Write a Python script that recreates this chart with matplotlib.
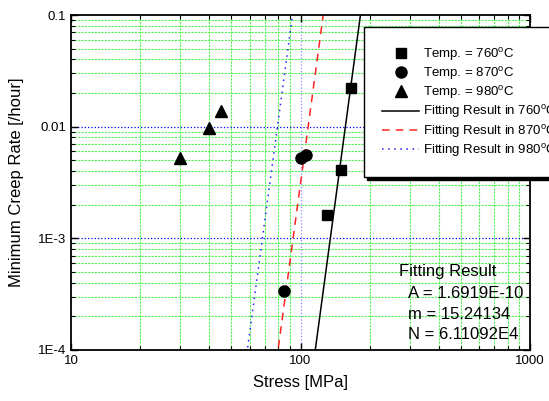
import matplotlib.pyplot as plt
import numpy as np
from matplotlib.ticker import FixedLocator, FixedFormatter, NullFormatter, LogLocator

plt.rcParams['font.family'] = ['Liberation Sans', 'DejaVu Sans']
plt.rcParams['mathtext.fontset'] = 'custom'
plt.rcParams['mathtext.rm'] = 'Liberation Sans'

# measured creep data (stress in MPa, minimum creep rate in 1/hour)
stress_760 = [131, 150, 166]
rate_760 = [1.62e-3, 4.1e-3, 0.0222]
stress_870 = [85, 100, 106]
rate_870 = [3.4e-4, 5.25e-3, 5.6e-3]
stress_980 = [30, 40, 45]
rate_980 = [5.2e-3, 9.8e-3, 0.0138]

temps_c = [760, 870, 980]

# fit: rate = A * stress^m * exp(-N / T)
fit_A = 1.6919e-10
fit_m = 15.24134
fit_N = 6.11092e4

fig = plt.figure(figsize=(5.49, 4.01), dpi=100)
ax = fig.add_axes([71 / 549, 51 / 401, 459 / 549, 335 / 401])
ax.set_xscale('log')
ax.set_yscale('log')
ax.set_xlim(10, 1000)
ax.set_ylim(1e-4, 0.1)

# grid: green dotted on minor decades, blue on major
for v in list(range(20, 100, 10)) + list(range(200, 1000, 100)):
    ax.axvline(v, color='#55ee55', lw=0.8, ls=(0, (2, 1)), zorder=0)
for dec in [1e-4, 1e-3, 1e-2]:
    for k in range(2, 10):
        ax.axhline(dec * k, color='#55ee55', lw=0.8, ls=(0, (2, 1)), zorder=0)
ax.axvline(100, color='#8888ff', lw=0.9, ls=':', zorder=0)
for v in [1e-3, 1e-2]:
    ax.axhline(v, color='#0000ee', lw=0.9, ls=':', zorder=0)

ms = 7.5
ax.plot(stress_760, rate_760, 's', color='k', ms=ms, ls='none',
        label=r'Temp. = 760$^{\mathrm{o}}$C', zorder=3)
ax.plot(stress_870, rate_870, 'o', color='k', ms=ms + 0.5, ls='none',
        label=r'Temp. = 870$^{\mathrm{o}}$C', zorder=3)
ax.plot(stress_980, rate_980, '^', color='k', ms=ms + 0.5, ls='none',
        label=r'Temp. = 980$^{\mathrm{o}}$C', zorder=3)

s = np.logspace(1, 3, 400)
styles = [('k', '-'), ('#ff2222', (0, (5, 4))), ('#2222ff', (0, (1, 3)))]
for tc, (c, ls) in zip(temps_c, styles):
    T = tc + 273
    fit = fit_A * s ** fit_m * np.exp(-fit_N / T)
    ax.plot(s, fit, color=c, ls=ls, lw=1.1, zorder=2,
            label=r'Fitting Result in %d$^{\mathrm{o}}$C' % tc)

ax.xaxis.set_major_locator(FixedLocator([10, 100, 1000]))
ax.xaxis.set_major_formatter(FixedFormatter(['10', '100', '1000']))
ax.xaxis.set_minor_locator(LogLocator(base=10, subs=np.arange(2, 10)))
ax.xaxis.set_minor_formatter(NullFormatter())
ax.yaxis.set_major_locator(FixedLocator([1e-4, 1e-3, 1e-2, 0.1]))
ax.yaxis.set_major_formatter(FixedFormatter(['1E-4', '1E-3', '0.01', '0.1']))
ax.yaxis.set_minor_locator(LogLocator(base=10, subs=np.arange(2, 10)))
ax.yaxis.set_minor_formatter(NullFormatter())
ax.tick_params(which='both', direction='in', top=True, right=True, labelsize=9.5)
ax.tick_params(which='major', length=5, width=1)
ax.tick_params(which='minor', length=3, width=0.8)
for sp in ax.spines.values():
    sp.set_linewidth(1.3)

ax.set_xlabel('Stress [MPa]', fontsize=12, labelpad=6)
ax.set_ylabel('Minimum Creep Rate [/hour]', fontsize=12, labelpad=10)

leg = ax.legend(loc='upper left', bbox_to_anchor=(0.638, 0.964), borderaxespad=0,
                fontsize=9.5, fancybox=False, edgecolor='k', framealpha=1,
                shadow={'color': 'k', 'alpha': 1}, borderpad=1.4,
                handlelength=2.8, handletextpad=0.3, labelspacing=0.17)
leg.get_frame().set_linewidth(1.0)

ax.text(0.7146, 0.233, 'Fitting Result', transform=ax.transAxes, fontsize=12, va='center')
ax.text(0.734, 0.170, 'A = 1.6919E-10', transform=ax.transAxes, fontsize=12, va='center')
ax.text(0.734, 0.107, 'm = 15.24134', transform=ax.transAxes, fontsize=12, va='center')
ax.text(0.734, 0.045, 'N = 6.11092E4', transform=ax.transAxes, fontsize=12, va='center')

fig.savefig('out.png', dpi=100)
